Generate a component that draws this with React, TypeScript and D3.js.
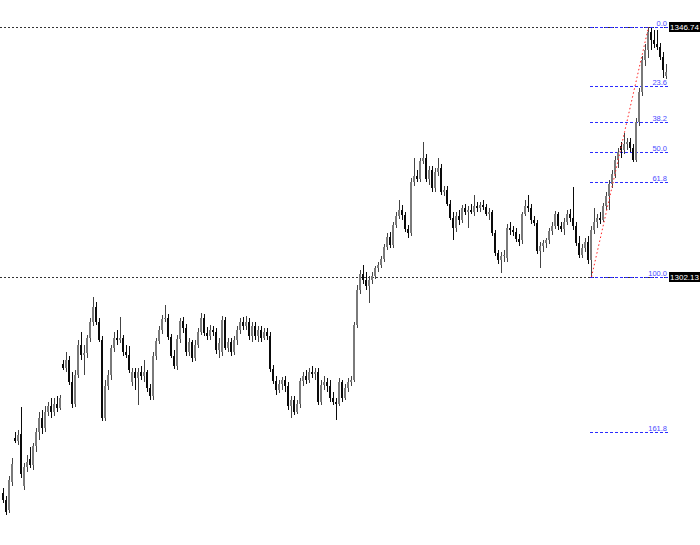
import React from "react";
import * as d3 from "d3";

// OHLC prices, one candle per bar, oldest first
const opens = [1263.6,1262.3,1260.6,1265.6,1273.4,1272.9,1274.1,1264.8,1268.2,1269.7,1268.6,1272.0,1274.5,1277.0,1275.2,1278.0,1279.1,1278.0,1279.5,1278.8,
1286.6,1285.9,1287.3,1283.4,1279.5,1284.6,1290.0,1288.2,1288.6,1291.2,1294.1,1296.8,1294.1,1290.9,1277.0,1282.7,1284.6,1289.5,1291.2,1290.9,
1291.2,1288.7,1288.2,1283.4,1285.2,1284.1,1285.2,1284.5,1285.2,1282.3,1280.9,1288.0,1290.7,1292.7,1294.6,1294.8,1291.4,1288.0,1286.2,1291.1,
1294.3,1293.0,1288.7,1290.5,1287.7,1290.0,1292.3,1294.8,1292.1,1291.6,1292.7,1292.3,1289.1,1288.7,1294.5,1289.5,1290.5,1288.7,1290.9,1292.7,
1294.1,1293.4,1294.1,1291.6,1293.4,1291.6,1292.7,1291.2,1292.3,1291.6,1285.7,1283.6,1282.0,1283.0,1283.8,1282.7,1279.1,1280.2,1278.0,1279.5,
1283.6,1284.5,1283.8,1285.2,1284.8,1285.2,1279.8,1282.9,1283.4,1282.7,1280.5,1279.8,1279.5,1283.4,1280.5,1282.3,1283.4,1283.8,1293.6,1299.8,
1302.7,1301.6,1300.5,1301.6,1302.3,1303.7,1304.3,1305.3,1307.5,1309.3,1307.9,1311.4,1313.0,1314.1,1313.2,1310.7,1310.0,1319.1,1320.1,1319.6,
1322.8,1323.4,1319.6,1321.2,1318.0,1320.9,1321.6,1317.3,1317.7,1315.2,1312.7,1310.9,1313.0,1312.3,1314.4,1313.7,1314.1,1313.7,1314.8,1314.4,
1315.0,1314.6,1313.4,1313.7,1310.0,1306.4,1305.2,1305.9,1305.5,1310.9,1310.5,1310.2,1308.9,1308.7,1313.4,1314.8,1314.4,1312.3,1311.8,1306.8,
1307.7,1308.2,1308.7,1310.3,1311.2,1313.4,1311.2,1310.7,1311.9,1313.4,1312.7,1311.2,1308.2,1306.1,1307.3,1308.4,1305.2,1310.5,1311.9,1312.7,
1312.3,1314.8,1316.6,1318.7,1320.5,1323.0,1325.5,1324.8,1325.9,1326.2,1325.2,1323.0,1329.8,1335.1,1340.9,1342.6,1345.8,1344.4,1343.7,1343.2,
1341.4,1338.0];
const highs = [1264.5,1263.0,1266.6,1269.8,1274.5,1274.8,1278.9,1268.9,1270.4,1271.8,1272.5,1275.2,1278.0,1278.4,1279.1,1279.8,1280.5,1280.5,1280.9,1281.1,
1287.3,1288.7,1288.0,1285.2,1285.5,1290.9,1292.3,1290.0,1291.8,1294.8,1298.6,1297.7,1294.8,1291.6,1283.8,1285.5,1290.0,1292.3,1292.7,1295.0,
1291.8,1290.0,1289.8,1285.9,1285.9,1285.9,1286.2,1287.3,1285.5,1283.0,1288.7,1291.2,1293.4,1295.4,1297.1,1295.5,1292.0,1289.1,1291.8,1294.8,
1295.0,1293.7,1291.2,1290.9,1290.9,1293.0,1295.7,1295.5,1293.2,1293.6,1293.4,1293.0,1291.2,1295.2,1295.0,1291.2,1291.2,1291.6,1293.4,1294.8,
1295.0,1295.2,1294.8,1294.1,1294.1,1293.4,1293.4,1293.0,1293.0,1292.3,1286.4,1284.5,1283.8,1284.3,1284.5,1283.4,1280.9,1280.9,1280.2,1284.1,
1285.2,1285.5,1285.9,1286.2,1285.9,1285.9,1283.8,1284.5,1284.1,1283.8,1281.6,1280.5,1284.1,1283.8,1283.0,1284.1,1284.5,1294.1,1300.7,1303.4,
1304.3,1303.0,1302.3,1303.0,1304.1,1304.8,1305.9,1308.0,1310.0,1310.2,1311.9,1313.7,1315.9,1315.0,1313.7,1311.4,1319.8,1323.4,1321.2,1323.4,
1326.2,1324.1,1321.9,1321.9,1321.6,1323.4,1322.3,1318.4,1318.4,1315.9,1313.7,1313.7,1314.1,1315.0,1315.2,1314.8,1315.2,1316.8,1315.5,1315.5,
1315.9,1315.2,1314.4,1314.1,1310.5,1307.0,1306.6,1307.0,1311.6,1311.9,1311.2,1310.9,1309.8,1313.7,1315.9,1316.8,1315.2,1313.0,1312.3,1308.4,
1308.7,1309.1,1310.9,1311.9,1313.9,1313.7,1311.9,1312.7,1314.1,1314.3,1318.2,1311.9,1309.5,1308.0,1309.1,1309.5,1311.2,1314.4,1313.4,1313.7,
1315.3,1317.3,1319.4,1321.2,1323.7,1325.2,1326.2,1327.8,1326.9,1326.9,1325.9,1330.5,1335.9,1341.6,1343.7,1346.74,1346.6,1346.2,1346.2,1343.9,
1342.3,1340.1];
const lows = [1261.8,1259.7,1260.0,1264.8,1272.5,1272.2,1266.3,1264.1,1267.3,1268.0,1267.7,1270.9,1273.0,1274.1,1274.5,1277.3,1277.0,1277.3,1278.0,1278.4,
1285.5,1285.2,1282.9,1278.8,1278.9,1284.1,1287.3,1284.6,1287.7,1290.5,1293.4,1293.6,1290.5,1276.4,1276.4,1282.0,1283.8,1288.7,1290.0,1290.4,
1288.0,1287.7,1285.0,1282.7,1282.0,1279.3,1283.8,1283.4,1281.6,1280.2,1280.2,1287.3,1290.2,1292.0,1294.1,1290.9,1287.7,1285.7,1285.5,1290.4,
1292.1,1288.0,1288.0,1287.0,1287.1,1289.5,1291.8,1291.6,1290.9,1290.9,1291.6,1288.4,1287.7,1288.0,1289.1,1288.7,1288.0,1288.2,1290.0,1292.0,
1292.7,1292.7,1290.9,1290.5,1290.9,1290.5,1290.5,1290.9,1290.9,1285.2,1283.0,1281.1,1281.4,1282.0,1281.6,1278.4,1277.0,1277.5,1277.7,1278.8,
1282.7,1283.0,1283.2,1284.1,1283.8,1279.3,1279.3,1282.0,1281.6,1279.8,1279.3,1276.6,1279.1,1279.8,1280.2,1281.6,1282.7,1283.4,1293.0,1299.1,
1300.9,1299.8,1297.5,1300.9,1301.8,1303.0,1303.7,1304.8,1307.0,1307.3,1307.3,1310.9,1312.5,1312.3,1310.2,1309.1,1309.5,1318.4,1319.1,1319.1,
1322.3,1319.1,1318.6,1317.3,1317.3,1320.1,1316.8,1316.6,1314.8,1312.3,1308.7,1310.2,1311.4,1311.8,1313.2,1310.9,1313.4,1313.0,1313.7,1313.7,
1314.1,1313.0,1312.3,1309.5,1305.9,1304.5,1302.9,1304.8,1304.8,1309.6,1309.5,1308.4,1307.7,1308.0,1313.0,1313.7,1311.6,1311.2,1306.2,1303.7,
1306.6,1307.3,1308.0,1309.6,1310.7,1310.5,1310.2,1309.6,1311.4,1311.9,1310.5,1307.7,1305.5,1305.5,1306.6,1304.5,1302.13,1309.8,1310.9,1311.6,
1311.9,1314.1,1314.1,1318.0,1319.8,1321.6,1323.4,1324.1,1324.8,1324.4,1322.6,1322.6,1329.1,1334.4,1339.8,1341.2,1342.6,1343.0,1342.6,1340.9,
1337.6,1337.5];
const closes = [1262.3,1260.2,1265.9,1268.8,1272.9,1273.9,1267.0,1268.2,1269.1,1268.6,1272.0,1274.5,1277.0,1275.2,1278.0,1279.1,1278.0,1279.5,1278.8,1280.5,
1285.9,1287.3,1283.4,1279.5,1284.6,1290.0,1288.2,1288.6,1291.2,1294.1,1296.8,1294.1,1290.9,1277.0,1282.7,1284.6,1289.5,1291.2,1290.9,1291.2,
1288.7,1288.2,1285.5,1285.2,1284.1,1285.2,1284.5,1285.2,1282.3,1280.9,1288.0,1290.7,1292.7,1294.6,1294.8,1291.4,1288.0,1286.2,1291.1,1294.3,
1293.0,1288.7,1290.5,1287.7,1290.0,1292.3,1294.8,1292.1,1291.6,1292.7,1292.3,1289.1,1290.4,1294.5,1289.5,1290.5,1288.7,1290.9,1292.7,1294.1,
1293.4,1294.1,1291.6,1293.4,1291.6,1292.7,1291.2,1292.3,1291.6,1285.7,1283.6,1282.0,1283.0,1283.8,1282.7,1279.1,1280.2,1278.0,1279.5,1283.6,
1284.5,1283.8,1285.2,1284.8,1285.2,1279.8,1282.9,1283.4,1282.7,1280.5,1279.8,1279.5,1283.4,1280.5,1282.3,1283.4,1283.8,1293.6,1299.8,1302.7,
1301.6,1300.5,1301.6,1302.3,1303.7,1304.3,1305.3,1307.5,1309.3,1307.9,1311.4,1313.0,1314.1,1313.2,1310.7,1310.0,1319.1,1320.1,1319.6,1322.8,
1323.4,1319.6,1321.2,1318.0,1320.9,1321.6,1317.3,1317.7,1315.2,1312.7,1310.9,1313.0,1312.3,1314.4,1313.7,1314.1,1313.7,1314.8,1314.4,1315.0,
1314.6,1313.4,1313.7,1310.0,1306.4,1305.2,1305.9,1306.1,1310.9,1310.5,1310.2,1308.9,1308.4,1313.4,1314.8,1314.4,1312.3,1311.8,1306.8,1307.7,
1308.2,1308.7,1310.3,1311.2,1313.4,1311.2,1310.7,1311.9,1313.4,1312.7,1311.2,1308.2,1306.1,1307.3,1308.4,1305.2,1310.5,1311.9,1312.7,1312.3,
1314.8,1316.6,1318.7,1320.5,1323.0,1324.4,1324.8,1325.9,1326.2,1325.2,1323.0,1329.8,1335.1,1340.9,1342.6,1345.8,1344.4,1343.7,1343.2,1341.4,
1339.1,1338.7];

// Fibonacci retracement anchors and levels
const fibHigh = 1346.74;
const fibLow = 1302.13;
const fibLevels = [0, 23.6, 38.2, 50, 61.8, 100, 161.8];
const fibLabels = ["0.0", "23.6", "38.2", "50.0", "61.8", "100.0", "161.8"];
const priceLabels = ["1346.74", "1302.13"];

const W = 700;
const H = 545;

export default function App() {
  const n = closes.length;
  const lowIdx = lows.indexOf(fibLow);
  const highIdx = highs.indexOf(fibHigh);

  const x = d3.scaleLinear().domain([0, n - 1]).range([3, 666]);
  const y = d3.scaleLinear().domain([fibLow, fibHigh]).range([277, 27]);

  const fibX1 = Math.round(x(lowIdx)) - 1;
  const fibX2 = 668;
  const font = "'Liberation Sans', Arial, sans-serif";

  return (
    <svg
      width={W}
      height={H}
      style={{ position: "absolute", left: 0, top: 0, background: "#fff" }}
    >
      <rect width={W} height={H} fill="#fff" />
      {/* horizontal price lines */}
      {[fibHigh, fibLow].map((p, i) => (
        <line
          key={"h" + i}
          x1={0}
          x2={668}
          y1={Math.round(y(p)) + 0.5}
          y2={Math.round(y(p)) + 0.5}
          stroke="#333"
          strokeDasharray="2,2"
          strokeWidth={1}
        />
      ))}
      {/* fib levels */}
      {fibLevels.map((lv, i) => {
        const p = fibHigh - ((fibHigh - fibLow) * lv) / 100;
        const yy = Math.round(y(p)) + 0.5;
        return (
          <g key={"f" + i}>
            <line
              x1={fibX1}
              x2={fibX2}
              y1={yy}
              y2={yy}
              stroke="#2b2bff"
              strokeDasharray="3,2"
              strokeWidth={1}
            />
            <text
              x={667}
              y={yy - 2}
              textAnchor="end"
              fontFamily={font}
              fontSize={7.5}
              fill="#4b4bff"
            >
              {fibLabels[i]}
            </text>
          </g>
        );
      })}
      {/* candles */}
      {closes.map((c, i) => {
        const o = opens[i];
        const cx = Math.round(x(i));
        const bull = c >= o;
        const top = Math.round(y(Math.max(o, c)));
        const bot = Math.round(y(Math.min(o, c)));
        const hi = Math.round(y(highs[i]));
        const lo = Math.round(y(lows[i]));
        const col = bull ? "#7a7a7a" : "#0a0a0a";
        return (
          <g key={"c" + i} shapeRendering="crispEdges">
            <rect x={cx} y={hi} width={1} height={Math.max(1, lo - hi)} fill={bull ? "#444" : "#0a0a0a"} />
            <rect x={cx - 1} y={top} width={2} height={Math.max(1, bot - top)} fill={col} />
          </g>
        );
      })}
      {/* trend line low to high */}
      <line
        x1={x(lowIdx) + 0.5}
        y1={y(fibLow)}
        x2={x(highIdx) + 0.5}
        y2={y(fibHigh)}
        stroke="#ff2020"
        strokeDasharray="1.5,2.5"
        strokeWidth={1}
      />
      {/* price tags */}
      {[fibHigh, fibLow].map((p, i) => {
        const yy = Math.round(y(p));
        return (
          <g key={"t" + i}>
            <rect x={669} y={yy - 5} width={31} height={10} fill="#000" />
            <text
              x={684.5}
              y={yy + 3}
              textAnchor="middle"
              fontFamily={font}
              fontSize={8}
              fill="#fff"
            >
              {priceLabels[i]}
            </text>
          </g>
        );
      })}
    </svg>
  );
}
